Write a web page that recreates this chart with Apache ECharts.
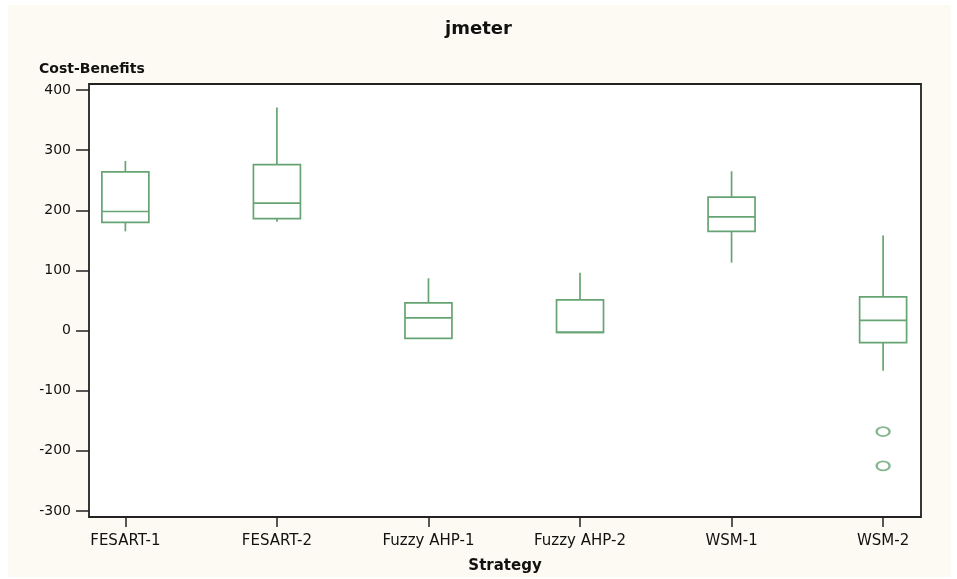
<!DOCTYPE html>
<html>
<head>
<meta charset="utf-8">
<title>jmeter</title>
<script src="https://cdn.jsdelivr.net/npm/echarts@6.0.0/dist/echarts.min.js"></script>
<style>
  html, body { margin: 0; padding: 0; background: #ffffff; }
  #bg { position: absolute; left: 8px; top: 5px; width: 943px; height: 572px; background: #fdfaf3; }
  #chart { position: absolute; left: 0; top: 0; width: 957px; height: 579px; }
</style>
</head>
<body>
<div id="bg"></div>
<div id="chart"></div>
<script>
// categories along the x axis
const categories = ['FESART-1', 'FESART-2', 'Fuzzy AHP-1', 'Fuzzy AHP-2', 'WSM-1', 'WSM-2']
// box statistics, one value per category
const lowWhisker = [165, 181, -13, -3, 113, -67]
const q1 = [180, 186, -13, -3, 165, -20]
const median = [198, 212, 21, -3, 189, 17]
const q3 = [264, 276, 46, 51, 222, 56]
const highWhisker = [282, 371, 87, 96, 265, 158]
// outliers: [category index, value]
const outliers = [[5, -168], [5, -225]]
// axis tick labels
const yTicks = [-300, -200, -100, 0, 100, 200, 300, 400]
const xTicks = [0, 1, 2, 3, 4, 5]

const green = '#67a473'
const font = 'DejaVu Sans'

const boxData = categories.map(function(c, i) {
  return [i, lowWhisker[i], q1[i], median[i], q3[i], highWhisker[i]]
})

function renderBox(params, api) {
  const x = api.value(0)
  const lo = api.coord([x, api.value(1)])
  const b1 = api.coord([x, api.value(2)])
  const md = api.coord([x, api.value(3)])
  const b3 = api.coord([x, api.value(4)])
  const hi = api.coord([x, api.value(5)])
  const half = api.size([0.31, 0])[0] / 2
  const style = { stroke: green, lineWidth: 1.7, fill: null }
  return {
    type: 'group',
    children: [
      { type: 'rect', shape: { x: b3[0] - half, y: b3[1], width: half * 2, height: b1[1] - b3[1] }, style: style },
      { type: 'line', shape: { x1: md[0] - half, y1: md[1], x2: md[0] + half, y2: md[1] }, style: style },
      { type: 'line', shape: { x1: hi[0], y1: hi[1], x2: b3[0], y2: b3[1] }, style: style },
      { type: 'line', shape: { x1: b1[0], y1: b1[1], x2: lo[0], y2: lo[1] }, style: style }
    ]
  }
}

const myChart = echarts.init(document.getElementById('chart'))
const option = {
  backgroundColor: 'transparent',
  animation: false,
  title: [{
    text: 'jmeter',
    left: 'center',
    top: 15,
    textStyle: { fontFamily: font, fontSize: 18, fontWeight: 'bold', color: '#111' }
  }, {
    text: 'Cost-Benefits',
    left: 34,
    top: 57,
    textStyle: { fontFamily: font, fontSize: 14, fontWeight: 'bold', color: '#111' }
  }],
  grid: {
    left: 89,
    right: 36,
    top: 84,
    bottom: 61,
    show: true,
    backgroundColor: '#ffffff',
    borderColor: '#222',
    borderWidth: 1.8
  },
  xAxis: {
    type: 'value',
    min: -0.24,
    max: 5.25,
    name: 'Strategy',
    nameLocation: 'middle',
    nameGap: 42,
    nameTextStyle: { fontFamily: font, fontSize: 15, fontWeight: 'bold', color: '#111' },
    splitLine: { show: false },
    axisLine: { show: false, onZero: false },
    axisTick: { show: true, length: 10, customValues: xTicks, lineStyle: { color: '#222', width: 1.5 } },
    axisLabel: {
      customValues: xTicks,
      margin: 17,
      fontFamily: font,
      fontSize: 15,
      color: '#111',
      formatter: function(v) { return categories[v] }
    }
  },
  yAxis: {
    type: 'value',
    min: -310,
    max: 410,
    splitLine: { show: false },
    axisLine: { show: false, onZero: false },
    axisTick: { show: true, length: 13, customValues: yTicks, lineStyle: { color: '#222', width: 1.5 } },
    axisLabel: {
      customValues: yTicks,
      margin: 18,
      fontFamily: font,
      fontSize: 14,
      color: '#111'
    }
  },
  series: [{
    type: 'custom',
    renderItem: renderBox,
    encode: { x: 0, y: [1, 2, 3, 4, 5] },
    data: boxData,
    silent: true
  }, {
    type: 'scatter',
    symbol: 'emptyCircle',
    symbolSize: [13, 9],
    itemStyle: { color: green, borderColor: green, borderWidth: 1.7 },
    data: outliers,
    silent: true
  }]
}
myChart.setOption(option)
</script>
</body>
</html>
